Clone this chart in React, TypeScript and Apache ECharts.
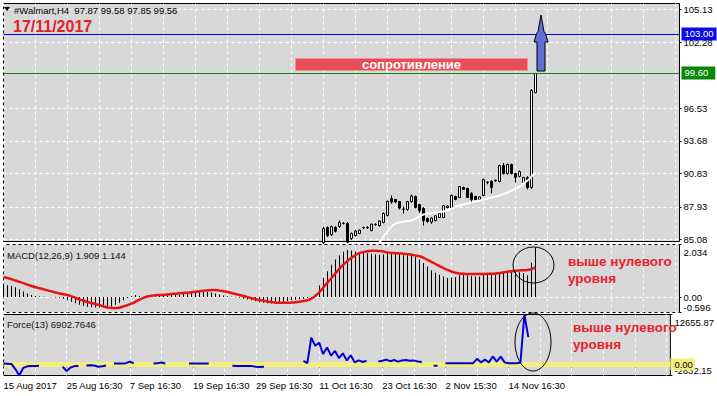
import React, { useEffect, useRef } from "react";
import * as echarts from "echarts";

const FONT = "'Liberation Sans', Arial, sans-serif";

// ---- axes / labels ----
const TOTAL_SLOTS = 170;
const categories: string[] = Array.from({ length: TOTAL_SLOTS }, (_, i) => `bar${i}`);
const xTickLabels = [
  "15 Aug 2017",
  "25 Aug 16:30",
  "7 Sep 16:30",
  "19 Sep 16:30",
  "29 Sep 16:30",
  "11 Oct 16:30",
  "23 Oct 16:30",
  "2 Nov 15:30",
  "14 Nov 16:30",
];
const mainTicks = [85.08, 87.93, 90.83, 93.68, 96.53, 102.28, 105.13];
const macdTicks = [-0.596, 0, 2.034];
const forceTicks = [-2832.15, 12655.87];

// ---- price candles: [open, high, low, close], starting at bar 80 ----
const candleStart = 80;
const candles: number[][] = [
  [84.8, 86.2, 84.7, 86.04],
  [86.13, 86.22, 85.3, 85.43],
  [85.5, 86.3, 85.4, 86.21],
  [86.13, 86.25, 85.7, 85.8],
  [86.21, 86.74, 86.1, 86.56],
  [86.47, 86.6, 86.4, 86.5],
  [86.47, 86.6, 84.75, 84.85],
  [85.17, 85.7, 85.05, 85.6],
  [85.43, 85.9, 85.35, 85.82],
  [85.6, 85.95, 85.55, 85.9],
  [86.1, 86.2, 86.0, 86.13],
  [86.13, 86.25, 86.0, 86.1],
  [85.86, 86.45, 85.8, 86.43],
  [86.37, 86.5, 86.3, 86.4],
  [86.3, 86.75, 86.2, 86.7],
  [86.56, 87.45, 86.5, 87.35],
  [87.17, 88.45, 87.1, 88.42],
  [88.65, 88.92, 88.2, 88.35],
  [88.57, 88.62, 88.25, 88.36],
  [88.39, 88.45, 87.7, 87.82],
  [87.74, 87.96, 87.35, 87.72],
  [87.7, 88.45, 87.6, 88.39],
  [88.39, 89.0, 88.3, 88.87],
  [88.83, 88.92, 87.8, 87.87],
  [88.13, 88.2, 87.4, 87.61],
  [87.8, 87.9, 86.3, 86.74],
  [86.91, 87.0, 86.55, 86.65],
  [86.6, 87.0, 86.45, 86.95],
  [86.74, 87.2, 86.65, 87.15],
  [87.0, 87.4, 86.95, 87.35],
  [87.0, 88.1, 86.95, 88.04],
  [87.87, 88.05, 87.8, 88.0],
  [87.78, 89.0, 87.7, 88.92],
  [88.83, 88.9, 88.5, 88.57],
  [88.74, 89.75, 88.7, 89.7],
  [89.61, 89.7, 89.4, 89.45],
  [89.53, 89.6, 88.7, 88.74],
  [89.1, 89.2, 88.22, 88.57],
  [88.83, 88.9, 88.5, 88.57],
  [88.57, 88.85, 88.5, 88.8],
  [88.92, 90.4, 88.85, 90.31],
  [90.05, 90.15, 89.9, 90.1],
  [90.14, 90.25, 89.1, 89.61],
  [90.2, 90.3, 90.1, 90.25],
  [90.14, 91.6, 90.05, 91.53],
  [91.53, 91.75, 90.75, 90.83],
  [90.83, 91.7, 90.75, 91.62],
  [91.62, 91.7, 90.75, 90.83],
  [90.83, 90.9, 90.05, 90.49],
  [90.57, 91.1, 90.5, 91.0],
  [90.05, 90.55, 89.95, 90.49],
  [90.49, 90.6, 89.45, 89.61],
  [89.61, 98.2, 89.5, 98.07],
  [97.87, 99.58, 97.85, 99.56],
];

// ---- white moving average, starting at bar 94 ----
const maStart = 94;
const maValues = [
  84.82, 85.34, 85.78, 86.21, 86.47, 86.56, 86.65, 86.69, 86.74, 86.91,
  87.09, 87.26, 87.35, 87.39, 87.43, 87.48, 87.52, 87.65, 87.78, 87.91,
  88.04, 88.13, 88.22, 88.31, 88.39, 88.48, 88.57, 88.65, 88.74, 88.83,
  88.92, 89.05, 89.18, 89.35, 89.53, 89.7, 89.96, 90.22, 90.57, 90.92,
];

// ---- MACD(12,26,9) ----
const macdHist = [
  0.48, 0.47, 0.44, 0.38, 0.3, 0.22, 0.14, 0.08, 0.04, 0.02,
  0.01, 0.0, -0.01, -0.02, -0.03, -0.06, -0.12, -0.18, -0.24, -0.3,
  -0.34, -0.37, -0.39, -0.4, -0.4, -0.39, -0.38, -0.36, -0.3, -0.22,
  -0.12, -0.04, 0.03, 0.08, 0.04, 0.0, 0.0, 0.01, 0.03, 0.05,
  0.06, 0.07, 0.08, 0.09, 0.1, 0.12, 0.15, 0.18, 0.2, 0.21,
  0.22, 0.2, 0.18, 0.14, 0.1, 0.06, 0.03, 0.01, -0.01, -0.03,
  -0.06, -0.09, -0.12, -0.16, -0.2, -0.22, -0.24, -0.25, -0.24, -0.22,
  -0.2, -0.16, -0.12, -0.1, -0.08, -0.06, -0.04, 0.0, 0.12, 0.45,
  0.75, 1.0, 1.25, 1.45, 1.62, 1.75, 1.82, 1.8, 1.76, 1.72,
  1.72, 1.7, 1.68, 1.66, 1.64, 1.66, 1.72, 1.74, 1.72, 1.68,
  1.62, 1.62, 1.62, 1.56, 1.45, 1.32, 1.18, 1.04, 0.94, 0.86,
  0.8, 0.74, 0.76, 0.78, 0.84, 0.86, 0.84, 0.82, 0.8, 0.8,
  0.86, 0.88, 0.86, 0.86, 0.95, 0.98, 1.02, 1.02, 0.98, 0.96,
  0.92, 0.84, 1.33, 1.909,
];
const macdSignal = [
  0.78, 0.74, 0.69, 0.64, 0.59, 0.54, 0.48, 0.43, 0.38, 0.34,
  0.3, 0.26, 0.22, 0.18, 0.14, 0.11, 0.08, 0.03, -0.03, -0.09,
  -0.14, -0.19, -0.23, -0.27, -0.31, -0.36, -0.4, -0.42, -0.43, -0.41,
  -0.36, -0.31, -0.25, -0.18, -0.1, -0.03, 0.02, 0.05, 0.07, 0.08,
  0.09, 0.1, 0.12, 0.13, 0.15, 0.16, 0.17, 0.19, 0.21, 0.23,
  0.25, 0.26, 0.27, 0.27, 0.25, 0.23, 0.2, 0.16, 0.12, 0.08,
  0.04, 0.0, -0.04, -0.08, -0.11, -0.14, -0.17, -0.19, -0.21, -0.22,
  -0.22, -0.22, -0.21, -0.2, -0.18, -0.15, -0.12, -0.06, 0.05, 0.2,
  0.38, 0.56, 0.74, 0.92, 1.1, 1.26, 1.4, 1.52, 1.62, 1.7,
  1.74, 1.77, 1.79, 1.79, 1.78, 1.76, 1.73, 1.71, 1.7, 1.69,
  1.68, 1.66, 1.64, 1.61, 1.58, 1.52, 1.44, 1.36, 1.28, 1.2,
  1.12, 1.05, 0.99, 0.94, 0.91, 0.9, 0.89, 0.89, 0.89, 0.89,
  0.89, 0.9, 0.9, 0.91, 0.93, 0.96, 0.98, 1.0, 1.02, 1.03,
  1.04, 1.05, 1.09, 1.144,
];

// ---- Force(13), null = not drawn ----
const forceValues: (number | null)[] = [
  200, 150, 100, -1200, -2832.15, -900, -500, -400, -400, -350,
  null, null, null, null, null,
  -600, -1700, -800, -450, -400,
  null,
  -300, -250, -300, -600, -500, -300,
  null,
  200, 200, 200, 300, 700, 250,
  null, null, null, null,
  200, 250, 450, 200,
  null, null, null, null, null,
  200, 200, 200, 200, 200, 200,
  null, null, null, null, null,
  -350, -400, -400, -400, -400, -450, -600, -700, -600,
  null, null, null, null, null, null, null, null, null,
  900, 300, 6800, 4700, 5500, 2600, 4300, 2200, 3400, 1600, 2800, 1000, 2300, 500, 1000, 600, 900,
  null, null,
  700, 900, 1200, 800, 1100, 700, 1000, 1100, 900, 1000, 700, 600,
  null, null,
  -380, -380,
  null,
  300, 300, 300, 300, 300, 300, 300, 300,
  1400, 500, 1200, 500, 2000, 700, 1950, 500, 300, 300, 300, 400, 12655.87, 6902.7646,
];

// ---- annotation levels ----
const targetLevel = 103.0;
const resistanceLevel = 99.6;
const zoneFrom = 73;
const zoneTo = 131;
const zoneTop = 100.86;
const zoneBottom = 99.81;

const padTo = (start: number, arr: any[]) => [...Array(start).fill("-"), ...arr];

const near = (a: number, b: number) => Math.abs(a - b) < 1e-6;

function buildOption() {
  const last = candles[candles.length - 1];
  const lastHist = macdHist[macdHist.length - 1];
  const lastSig = macdSignal[macdSignal.length - 1];
  const lastForce = forceValues[forceValues.length - 1] as number;
  const smallLabel = { color: "#000", fontSize: 9.5, fontFamily: FONT };

  const xAxisFor = (gridIndex: number, showLabels: boolean) => ({
    type: "category",
    gridIndex,
    data: categories,
    boundaryGap: false,
    axisLine: { show: showLabels, lineStyle: { color: "#000" } },
    axisTick: { show: showLabels, interval: 15, length: 3, lineStyle: { color: "#000" } },
    axisLabel: {
      show: showLabels,
      interval: 15,
      align: "left",
      margin: 5,
      ...smallLabel,
      formatter: (_v: string, idx: number) => xTickLabels[idx / 16] ?? "",
    },
    splitLine: { show: true, interval: 7, lineStyle: { color: "#ffffff", type: [3, 3], width: 1 } },
  });

  const yBase = {
    type: "value",
    position: "right",
    axisLine: { show: false },
    splitLine: { show: true, lineStyle: { color: "#ffffff", type: [3, 3], width: 1 } },
  };
  const richShift = {
    top: { ...smallLabel, padding: [15, 0, 0, 0] },
    bot: { ...smallLabel, padding: [0, 0, 11, 0] },
  };
  const gridStyle = { show: true, backgroundColor: "#d8d8d8", borderColor: "#000", borderWidth: 1 };

  return {
    animation: false,
    backgroundColor: "#ffffff",
    grid: [
      { left: 3.5, top: 3.5, width: 676, height: 238, ...gridStyle },
      { left: 3.5, top: 244.5, width: 676, height: 68, ...gridStyle },
      { left: 3.5, top: 314.5, width: 676, height: 61, ...gridStyle },
    ],
    xAxis: [xAxisFor(0, false), xAxisFor(1, false), xAxisFor(2, true)],
    yAxis: [
      {
        ...yBase,
        gridIndex: 0,
        min: 84.91,
        max: 105.65,
        axisTick: { show: true, length: 2, customValues: mainTicks, lineStyle: { color: "#000" } },
        axisLabel: { ...smallLabel, margin: 4, customValues: mainTicks, formatter: (v: number) => v.toFixed(2) },
      },
      {
        ...yBase,
        gridIndex: 1,
        min: macdTicks[0],
        max: macdTicks[2],
        axisTick: { show: true, length: 2, customValues: macdTicks, lineStyle: { color: "#000" } },
        axisLabel: {
          ...smallLabel,
          margin: 4,
          customValues: macdTicks,
          rich: richShift,
          formatter: (v: number) =>
            near(v, macdTicks[2]) ? `{top|${v.toFixed(3)}}` : near(v, macdTicks[0]) ? `{bot|${v.toFixed(3)}}` : v.toFixed(2),
        },
      },
      {
        ...yBase,
        gridIndex: 2,
        min: forceTicks[0],
        max: forceTicks[1],
        axisTick: { show: true, length: 2, customValues: forceTicks, lineStyle: { color: "#000" } },
        axisLabel: {
          ...smallLabel,
          margin: 4,
          customValues: forceTicks,
          rich: richShift,
          formatter: (v: number) => (near(v, forceTicks[1]) ? `{top|${v.toFixed(2)}}` : `{bot|${v.toFixed(2)}}`),
        },
        splitLine: { show: false },
      },
    ],
    series: [
      {
        type: "candlestick",
        xAxisIndex: 0,
        yAxisIndex: 0,
        barWidth: 3,
        clip: true,
        data: padTo(candleStart, candles.map(([o, h, l, c]) => [o, c, l, h])),
        itemStyle: { color: "#ffffff", color0: "#000000", borderColor: "#000000", borderColor0: "#000000", borderWidth: 1 },
        markLine: {
          silent: true,
          symbol: ["none", "none"],
          data: [
            {
              yAxis: targetLevel,
              lineStyle: { color: "#0000ff", width: 1, type: "solid", opacity: 1 },
              label: {
                show: true,
                position: "end",
                distance: 2,
                formatter: targetLevel.toFixed(2),
                backgroundColor: "#0c0ce6",
                color: "#ffffff",
                fontSize: 9.5,
                fontFamily: FONT,
                padding: [2, 3, 1, 3],
              },
            },
            {
              yAxis: resistanceLevel,
              lineStyle: { color: "#0a8a0a", width: 1, type: "solid", opacity: 1 },
              label: {
                show: true,
                position: "end",
                distance: 2,
                formatter: resistanceLevel.toFixed(2),
                backgroundColor: "#0a860a",
                color: "#ffffff",
                fontSize: 9.5,
                fontFamily: FONT,
                padding: [2, 7, 1, 3],
              },
            },
          ],
        },
        markArea: {
          silent: true,
          itemStyle: { color: "#e84c56", borderColor: "#f39097", borderWidth: 1, opacity: 1 },
          label: {
            show: true,
            position: "inside",
            formatter: "сопротивление",
            color: "#ffffff",
            fontWeight: "bold",
            fontSize: 13,
            fontFamily: FONT,
          },
          data: [
            [
              { xAxis: categories[zoneFrom], yAxis: zoneTop },
              { xAxis: categories[zoneTo], yAxis: zoneBottom },
            ],
          ],
        },
      },
      {
        type: "line",
        xAxisIndex: 0,
        yAxisIndex: 0,
        data: padTo(maStart, maValues),
        symbol: "none",
        smooth: true,
        clip: true,
        lineStyle: { color: "#ffffff", width: 2 },
      },
      {
        type: "bar",
        xAxisIndex: 1,
        yAxisIndex: 1,
        data: macdHist,
        barWidth: 1,
        itemStyle: { color: "#000000" },
      },
      {
        type: "line",
        xAxisIndex: 1,
        yAxisIndex: 1,
        data: macdSignal,
        symbol: "none",
        smooth: true,
        z: 5,
        lineStyle: { color: "#e81414", width: 2.5 },
      },
      {
        type: "line",
        xAxisIndex: 2,
        yAxisIndex: 2,
        data: forceValues.map((v) => (v === null ? "-" : v)),
        symbol: "none",
        connectNulls: false,
        z: 10,
        lineStyle: { color: "#0000d8", width: 2 },
        markLine: {
          silent: true,
          z: 1,
          symbol: ["none", "none"],
          data: [
            {
              yAxis: 0,
              lineStyle: { color: "#f2ef7c", width: 5, type: "solid", opacity: 1 },
              label: {
                show: true,
                position: "end",
                distance: 0,
                formatter: "0.00",
                backgroundColor: "#f2ef7c",
                color: "#000",
                fontSize: 9.5,
                fontFamily: FONT,
                padding: [1, 2, 1, 4],
              },
            },
          ],
        },
      },
    ],
    graphic: [
      { type: "polygon", z: 100, shape: { points: [[4, 7], [10, 7], [7, 11]] }, style: { fill: "#000" } },
      {
        type: "text",
        z: 100,
        x: 14,
        y: 10,
        style: {
          text: `#Walmart,H4  ${last[0].toFixed(2)} ${last[1].toFixed(2)} ${last[2].toFixed(2)} ${last[3].toFixed(2)}`,
          fill: "#000",
          fontSize: 9.5,
          fontFamily: FONT,
          verticalAlign: "middle",
        },
      },
      {
        type: "text",
        z: 100,
        x: 13,
        y: 26,
        style: { text: "17/11/2017", fill: "#e3202c", fontSize: 16, fontWeight: "bold", fontFamily: FONT, verticalAlign: "middle" },
      },
      {
        type: "text",
        z: 100,
        x: 7,
        y: 255,
        style: {
          text: `MACD(12,26,9) ${lastHist.toFixed(3)} ${lastSig.toFixed(3)}`,
          fill: "#111",
          fontSize: 9.5,
          fontFamily: FONT,
          verticalAlign: "middle",
        },
      },
      {
        type: "text",
        z: 100,
        x: 7,
        y: 324,
        style: { text: `Force(13) ${lastForce.toFixed(4)}`, fill: "#111", fontSize: 9.5, fontFamily: FONT, verticalAlign: "middle" },
      },
      {
        type: "text",
        z: 100,
        x: 568,
        y: 261,
        style: { text: "выше нулевого", fill: "#e8212b", fontSize: 13.5, fontWeight: "bold", fontFamily: FONT, verticalAlign: "middle" },
      },
      {
        type: "text",
        z: 100,
        x: 568,
        y: 278,
        style: { text: "уровня", fill: "#e8212b", fontSize: 13.5, fontWeight: "bold", fontFamily: FONT, verticalAlign: "middle" },
      },
      {
        type: "text",
        z: 100,
        x: 573,
        y: 327,
        style: { text: "выше нулевого", fill: "#e8212b", fontSize: 13.5, fontWeight: "bold", fontFamily: FONT, verticalAlign: "middle" },
      },
      {
        type: "text",
        z: 100,
        x: 573,
        y: 344,
        style: { text: "уровня", fill: "#e8212b", fontSize: 13.5, fontWeight: "bold", fontFamily: FONT, verticalAlign: "middle" },
      },
      {
        type: "ellipse",
        z: 100,
        shape: { cx: 533.5, cy: 265, rx: 20.5, ry: 18 },
        style: { fill: "none", stroke: "#000", lineWidth: 1 },
      },
      {
        type: "ellipse",
        z: 100,
        shape: { cx: 533, cy: 342, rx: 18, ry: 29 },
        style: { fill: "none", stroke: "#000", lineWidth: 1 },
      },
      {
        type: "polygon",
        z: 100,
        shape: {
          points: [
            [541, 15], [544, 31.5], [545.5, 33.5], [548, 42], [545, 42], [545, 71],
            [537, 71], [537, 42], [534, 42], [536.5, 33.5], [538, 31.5],
          ],
        },
        style: { fill: "#5f6fd4", stroke: "#000", lineWidth: 1 },
      },
    ],
  };
}

export default function App() {
  const ref = useRef<HTMLDivElement>(null);
  useEffect(() => {
    if (!ref.current) return;
    const chart = echarts.init(ref.current, null, { renderer: "svg" });
    chart.setOption(buildOption() as any);
    return () => chart.dispose();
  }, []);
  return (
    <div
      ref={ref}
      style={{ position: "fixed", left: 0, top: 0, width: 717, height: 396, background: "#fff" }}
    />
  );
}
